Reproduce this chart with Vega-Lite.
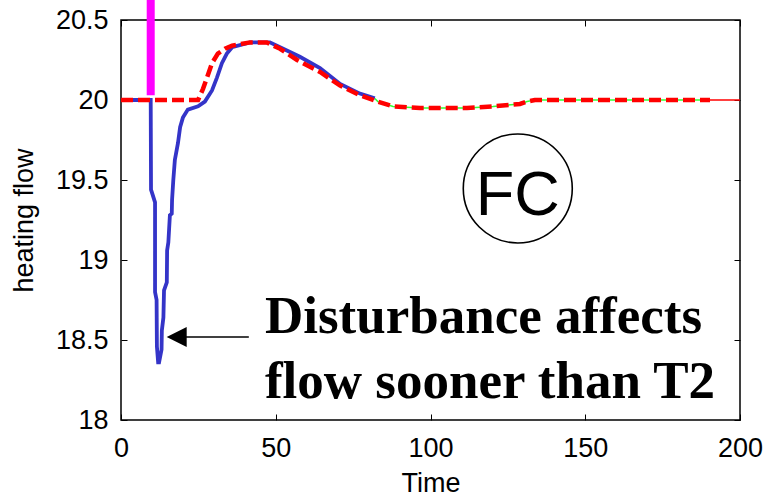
{
  "$schema": "https://vega.github.io/schema/vega-lite/v6.json",
  "width": 619,
  "height": 400,
  "autosize": "none",
  "padding": {"left": 121, "top": 20, "right": 25, "bottom": 77},
  "background": "white",
  "config": {
    "view": {"stroke": "black", "strokeWidth": 1.5},
    "axis": {"grid": false, "domain": false, "tickColor": "black", "tickWidth": 1, "labelColor": "black", "titleColor": "black", "labelFont": "Liberation Sans", "titleFont": "Liberation Sans", "labelFontSize": 27, "titleFontSize": 27, "titleFontWeight": "normal", "labelFlush": false, "labelOverlap": false}
  },
  "datasets": {
    "blue": [
      {"t": 0, "v": 20.0}, {"t": 9.6, "v": 20.0}, {"t": 9.7, "v": 19.44}, {"t": 11.0, "v": 19.36},
      {"t": 11.0, "v": 18.8}, {"t": 11.5, "v": 18.75}, {"t": 11.6, "v": 18.46}, {"t": 12.0, "v": 18.36},
      {"t": 12.3, "v": 18.36}, {"t": 13.1, "v": 18.44}, {"t": 13.2, "v": 18.56}, {"t": 13.7, "v": 18.64},
      {"t": 13.9, "v": 18.81}, {"t": 14.8, "v": 18.86}, {"t": 14.9, "v": 19.06}, {"t": 15.3, "v": 19.11},
      {"t": 15.8, "v": 19.28}, {"t": 16.4, "v": 19.29}, {"t": 16.5, "v": 19.375}, {"t": 16.9, "v": 19.5},
      {"t": 17.4, "v": 19.625}, {"t": 18.4, "v": 19.73}, {"t": 19.1, "v": 19.83}, {"t": 20.0, "v": 19.89},
      {"t": 21.6, "v": 19.94}, {"t": 24.9, "v": 19.96}, {"t": 27.1, "v": 19.99}, {"t": 29.4, "v": 20.06},
      {"t": 31.0, "v": 20.14}, {"t": 32.6, "v": 20.23}, {"t": 34.2, "v": 20.29}, {"t": 35.9, "v": 20.33},
      {"t": 41.7, "v": 20.36}, {"t": 48.1, "v": 20.36}, {"t": 51.4, "v": 20.33}, {"t": 57.8, "v": 20.27},
      {"t": 64.3, "v": 20.2}, {"t": 70.8, "v": 20.1}, {"t": 77.2, "v": 20.04}, {"t": 82.0, "v": 20.01}
    ],
    "red": [
      {"t": 0, "v": 20.0}, {"t": 24.9, "v": 20.0}, {"t": 26.5, "v": 20.07}, {"t": 27.8, "v": 20.14},
      {"t": 29.4, "v": 20.23}, {"t": 31.3, "v": 20.29}, {"t": 33.6, "v": 20.32}, {"t": 35.9, "v": 20.34},
      {"t": 41.7, "v": 20.36}, {"t": 47.1, "v": 20.36}, {"t": 51.4, "v": 20.32}, {"t": 56.9, "v": 20.25},
      {"t": 64.3, "v": 20.175}, {"t": 70.8, "v": 20.09}, {"t": 77.2, "v": 20.03}, {"t": 83.0, "v": 19.99},
      {"t": 87.9, "v": 19.96}, {"t": 96.6, "v": 19.95}, {"t": 111.8, "v": 19.95}, {"t": 120.2, "v": 19.96},
      {"t": 128.9, "v": 19.975}, {"t": 131.2, "v": 19.99}, {"t": 133.7, "v": 20.0}, {"t": 144.2, "v": 20.0},
      {"t": 190.3, "v": 20.0}
    ],
    "green": [
      {"t": 82.0, "v": 20.01}, {"t": 83.0, "v": 19.99}, {"t": 87.9, "v": 19.96}, {"t": 96.6, "v": 19.95},
      {"t": 111.8, "v": 19.95}, {"t": 120.2, "v": 19.96}, {"t": 128.9, "v": 19.975}, {"t": 131.2, "v": 19.99},
      {"t": 133.7, "v": 20.0}, {"t": 144.2, "v": 20.0}, {"t": 190.3, "v": 20.0}
    ],
    "redthin": [{"t": 190.3, "v": 20.0}, {"t": 200, "v": 20.0}],
    "magenta": [{"t": 9.6, "v": 20.03, "v2": 20.7}],
    "arrow": [{"t": 19.0, "t2": 41.3, "v": 18.519}],
    "arrowhead": [{"t": 18.0, "v": 18.519}],
    "circle": [{"t": 128.2, "v": 19.447}],
    "fc": [{"t": 128.2, "v": 19.28, "label": "FC"}],
    "notes": [
      {"t": 46.5, "v": 18.544, "label": "Disturbance affects"},
      {"t": 46.5, "v": 18.1375, "label": "flow sooner than T2"}
    ]
  },
  "resolve": {"axis": {"x": "independent", "y": "independent"}},
  "layer": [
    {
      "data": {"name": "blue"},
      "mark": {"type": "line", "color": "#3434c8", "strokeWidth": 3.8},
      "encoding": {
        "x": {"field": "t", "type": "quantitative", "scale": {"domain": [0, 200], "nice": false, "zero": false},
          "axis": {"orient": "bottom", "values": [0, 50, 100, 150, 200], "tickSize": -6, "labelPadding": 21, "title": "Time", "titlePadding": 9}},
        "y": {"field": "v", "type": "quantitative", "scale": {"domain": [18, 20.5], "nice": false, "zero": false},
          "axis": {"orient": "left", "values": [18, 18.5, 19, 19.5, 20, 20.5], "format": "~g", "tickSize": -6, "labelPadding": 19, "title": "heating flow", "titlePadding": 17}},
        "order": {"field": "t"}
      }
    },
    {
      "data": {"name": "green"},
      "mark": {"type": "line", "color": "#33ff33", "strokeWidth": 1.5},
      "encoding": {
        "x": {"field": "t", "type": "quantitative", "scale": {"domain": [0, 200], "nice": false, "zero": false},
          "axis": {"orient": "top", "values": [0, 50, 100, 150, 200], "tickSize": -6, "labels": false, "title": null}},
        "y": {"field": "v", "type": "quantitative", "scale": {"domain": [18, 20.5], "nice": false, "zero": false},
          "axis": {"orient": "right", "values": [18, 18.5, 19, 19.5, 20, 20.5], "tickSize": -6, "labels": false, "title": null}}
      }
    },
    {
      "data": {"name": "red"},
      "mark": {"type": "line", "color": "#ff0000", "strokeWidth": 4.5, "strokeDash": [12, 5]},
      "encoding": {
        "x": {"field": "t", "type": "quantitative", "scale": {"domain": [0, 200], "nice": false, "zero": false}, "axis": null},
        "y": {"field": "v", "type": "quantitative", "scale": {"domain": [18, 20.5], "nice": false, "zero": false}, "axis": null}
      }
    },
    {
      "data": {"name": "redthin"},
      "mark": {"type": "line", "color": "#ff0000", "strokeWidth": 1.5},
      "encoding": {
        "x": {"field": "t", "type": "quantitative", "scale": {"domain": [0, 200], "nice": false, "zero": false}, "axis": null},
        "y": {"field": "v", "type": "quantitative", "scale": {"domain": [18, 20.5], "nice": false, "zero": false}, "axis": null}
      }
    },
    {
      "data": {"name": "magenta"},
      "mark": {"type": "rule", "color": "#ff00ff", "strokeWidth": 8},
      "encoding": {
        "x": {"field": "t", "type": "quantitative", "scale": {"domain": [0, 200], "nice": false, "zero": false}, "axis": null},
        "y": {"field": "v", "type": "quantitative", "scale": {"domain": [18, 20.5], "nice": false, "zero": false}, "axis": null},
        "y2": {"field": "v2"}
      }
    },
    {
      "data": {"name": "arrow"},
      "mark": {"type": "rule", "color": "black", "strokeWidth": 1.5},
      "encoding": {
        "x": {"field": "t", "type": "quantitative", "scale": {"domain": [0, 200], "nice": false, "zero": false}, "axis": null},
        "x2": {"field": "t2"},
        "y": {"field": "v", "type": "quantitative", "scale": {"domain": [18, 20.5], "nice": false, "zero": false}, "axis": null}
      }
    },
    {
      "data": {"name": "arrowhead"},
      "mark": {"type": "point", "shape": "M1,-1L-1,0L1,1Z", "filled": true, "color": "black", "opacity": 1, "size": 400},
      "encoding": {
        "x": {"field": "t", "type": "quantitative", "scale": {"domain": [0, 200], "nice": false, "zero": false}, "axis": null},
        "y": {"field": "v", "type": "quantitative", "scale": {"domain": [18, 20.5], "nice": false, "zero": false}, "axis": null}
      }
    },
    {
      "data": {"name": "circle"},
      "mark": {"type": "point", "shape": "circle", "filled": false, "stroke": "black", "strokeWidth": 1.6, "opacity": 1, "size": 11882},
      "encoding": {
        "x": {"field": "t", "type": "quantitative", "scale": {"domain": [0, 200], "nice": false, "zero": false}, "axis": null},
        "y": {"field": "v", "type": "quantitative", "scale": {"domain": [18, 20.5], "nice": false, "zero": false}, "axis": null}
      }
    },
    {
      "data": {"name": "fc"},
      "mark": {"type": "text", "font": "Liberation Sans", "fontSize": 63, "align": "center", "baseline": "alphabetic", "color": "black"},
      "encoding": {
        "x": {"field": "t", "type": "quantitative", "scale": {"domain": [0, 200], "nice": false, "zero": false}, "axis": null},
        "y": {"field": "v", "type": "quantitative", "scale": {"domain": [18, 20.5], "nice": false, "zero": false}, "axis": null},
        "text": {"field": "label"}
      }
    },
    {
      "data": {"name": "notes"},
      "mark": {"type": "text", "font": "Liberation Serif", "fontWeight": "bold", "fontSize": 53, "align": "left", "baseline": "alphabetic", "color": "black"},
      "encoding": {
        "x": {"field": "t", "type": "quantitative", "scale": {"domain": [0, 200], "nice": false, "zero": false}, "axis": null},
        "y": {"field": "v", "type": "quantitative", "scale": {"domain": [18, 20.5], "nice": false, "zero": false}, "axis": null},
        "text": {"field": "label"}
      }
    }
  ]
}
